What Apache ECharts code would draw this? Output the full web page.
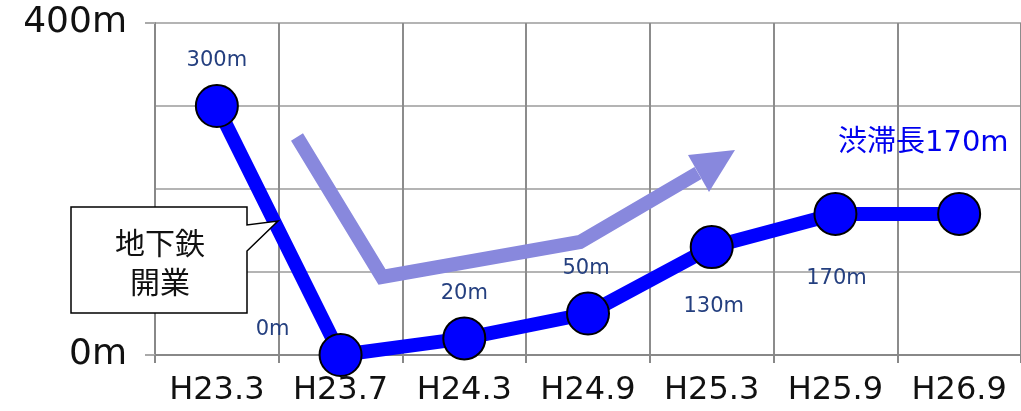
<!DOCTYPE html>
<html>
<head>
<meta charset="utf-8">
<script src="https://cdn.jsdelivr.net/npm/echarts@6/dist/echarts.min.js"></script>
<style>html,body{margin:0;padding:0;background:#fff}#c{width:1021px;height:411px}</style>
</head>
<body>
<div id="c"></div>
<script>
const categories = ['H23.3','H23.7','H24.3','H24.9','H25.3','H25.9','H26.9'];
const jamLength = [300, 0, 20, 50, 130, 170, 170];
const pointLabels = ['300m','0m','20m','50m','130m','170m',''];
const yTickLabels = {0: '0m', 400: '400m'};
const calloutText = '地下鉄\n開業';
const headlineText = '渋滞長170m';

// label offsets (style only)
const labelOffsets = [[0,-45],[-68,-25],[0,-45],[-2,-45],[2,59],[1,65],[0,0]];

const chart = echarts.init(document.getElementById('c'), null, {renderer:'canvas'});
const data = jamLength.map((v,i)=>({
  value: v,
  label: {
    show: pointLabels[i] !== '',
    formatter: pointLabels[i],
    position: 'inside',
    offset: labelOffsets[i],
    color: '#243f7f',
    fontFamily: 'DejaVu Sans',
    fontSize: 21
  }
}));

chart.setOption({
  animation: false,
  grid: {left: 155, right: -5.5, top: 23, bottom: 56, containLabel: false},
  xAxis: {
    type: 'category',
    data: categories,
    boundaryGap: true,
    axisLine: {lineStyle: {color: '#888', width: 2}},
    axisTick: {show: true, interval: 0, length: 8, lineStyle: {color: '#888', width: 2}},
    axisLabel: {interval: 0, hideOverlap: false, color: '#111', fontFamily: 'DejaVu Sans', fontSize: 32, margin: 20},
    splitLine: {show: true, interval: 0, lineStyle: {color: '#8c8c8c', width: 2}}
  },
  yAxis: [{
    type: 'value', min: 0, max: 400, interval: 100,
    axisLine: {show: true, lineStyle: {color: '#888', width: 2}},
    axisTick: {show: false},
    axisLabel: {
      color: '#111', fontFamily: 'DejaVu Sans', fontSize: 36, margin: 28,
      formatter: v => yTickLabels[v] || ''
    },
    splitLine: {show: true, lineStyle: {color: '#b4b4b4', width: 2}}
  },{
    type: 'value', min: 0, max: 400, interval: 400, position: 'left',
    axisLine: {show: false},
    axisTick: {show: true, length: 10, lineStyle: {color: '#aaa', width: 2}},
    axisLabel: {show: false},
    splitLine: {show: false}
  }],
  series: [{
    type: 'line',
    data: data,
    yAxisIndex: 0,
    lineStyle: {color: '#0000ff', width: 14},
    itemStyle: {color: '#0000ff', borderColor: '#000', borderWidth: 2},
    symbol: 'circle',
    symbolSize: 42,
    z: 3
  }],
  graphic: [
    {type: 'polyline', z: 2, shape: {points: [[297,137],[382,277],[580,242],[698,173]]},
     style: {stroke: '#8888dd', lineWidth: 14, fill: null, lineJoin: 'miter'}},
    {type: 'polygon', z: 2, shape: {points: [[688,155],[735,150],[709,192]]},
     style: {fill: '#8888dd'}},
    {type: 'polygon', z: 10, shape: {points: [[71,207],[247,207],[247,225],[278,221],[247,251],[247,313],[71,313]]},
     style: {fill: '#fff', stroke: '#000', lineWidth: 1.5}},
    {type: 'text', z: 11, x: 160, y: 262,
     style: {text: calloutText, fill: '#111', font: '30px "Noto Sans CJK JP"', lineHeight: 39, align: 'center', verticalAlign: 'middle'}},
    {type: 'text', z: 11, x: 838, y: 143,
     style: {text: headlineText, fill: '#0000ee', font: '29px "DejaVu Sans", "Noto Sans CJK JP"', verticalAlign: 'middle'}}
  ]
});
</script>
</body>
</html>
